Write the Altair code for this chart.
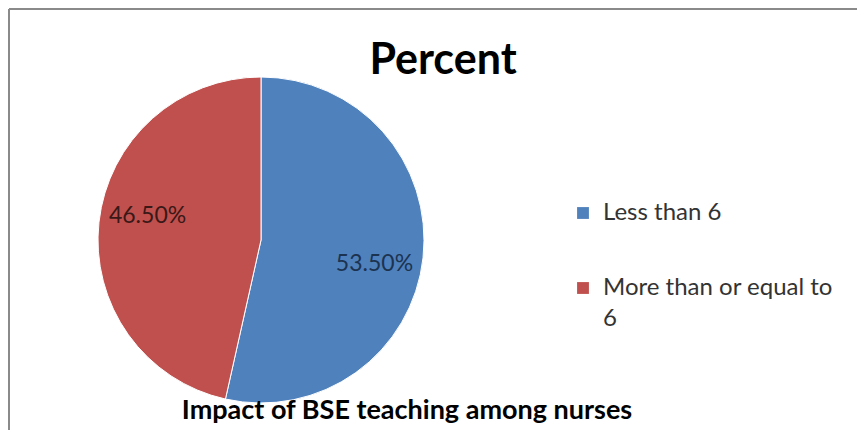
import altair as alt
import pandas as pd

categories = ["Less than 6", "More than or equal to 6"]
values = [53.5, 46.5]
title_text = "Percent"
subtitle_text = "Impact of BSE teaching among nurses"

df = pd.DataFrame({"category": categories, "value": values, "order": [0, 1]})

FONT = "Lato"
CX, CY = 252, 232

base = alt.Chart(df).encode(
    theta=alt.Theta("value:Q", stack=True),
    order=alt.Order("order:Q"),
)

pie = base.mark_arc(outerRadius=163, stroke="white", strokeWidth=1).encode(
    x=alt.value(CX),
    y=alt.value(CY),
    color=alt.Color(
        "category:N",
        scale=alt.Scale(domain=categories, range=["#4F81BD", "#C0504D"]),
        legend=alt.Legend(
            title=None,
            orient="none",
            legendX=562,
            legendY=193,
            symbolType="square",
            symbolSize=140,
            symbolStrokeWidth=0,
            labelFont=FONT,
            labelFontSize=24,
            labelColor="#333333",
            labelLimit=400,
            rowPadding=51,
            labelOffset=8,
            labelBaseline="middle",
            labelExpr="datum.label == 'More than or equal to 6' ? ['More than or equal to', '6'] : datum.label",
        ),
    ),
)

labels = base.transform_calculate(
    label="format(datum.value, '.2f') + '%'"
).mark_text(radius=116, thetaOffset=0.1, font=FONT, fontSize=23).encode(
    x=alt.value(CX),
    y=alt.value(CY),
    text="label:N",
    color=alt.condition(
        alt.datum.category == categories[0], alt.value("#1c3350"), alt.value("#3a1818")
    ),
)

title = alt.Chart(pd.DataFrame({"t": [title_text]})).mark_text(
    font=FONT, fontSize=43, fontWeight="bold", color="black", baseline="alphabetic"
).encode(x=alt.value(434), y=alt.value(66), text="t:N")

subtitle = alt.Chart(pd.DataFrame({"t": [subtitle_text]})).mark_text(
    font=FONT, fontSize=27, fontWeight="bold", color="black", baseline="alphabetic"
).encode(x=alt.value(398), y=alt.value(411), text="t:N")

top_rule = alt.Chart(df).mark_rule(color="#8a8a8a", strokeWidth=2).encode(
    x=alt.value(0), x2=alt.value(849), y=alt.value(1)
)
left_rule = alt.Chart(df).mark_rule(color="#8a8a8a", strokeWidth=2).encode(
    x=alt.value(0), y=alt.value(1), y2=alt.value(422)
)

chart = alt.layer(pie, labels, title, subtitle, top_rule, left_rule).properties(
    width=849,
    height=422,
    padding=0,
    autosize=alt.AutoSizeParams(type="fit", contains="padding"),
).configure(
    background="white",
    style={"guide-label": {"lineHeight": 31}},
).configure_view(stroke=None)

chart.save("out.html", embed_options={"renderer": "svg", "actions": False})
